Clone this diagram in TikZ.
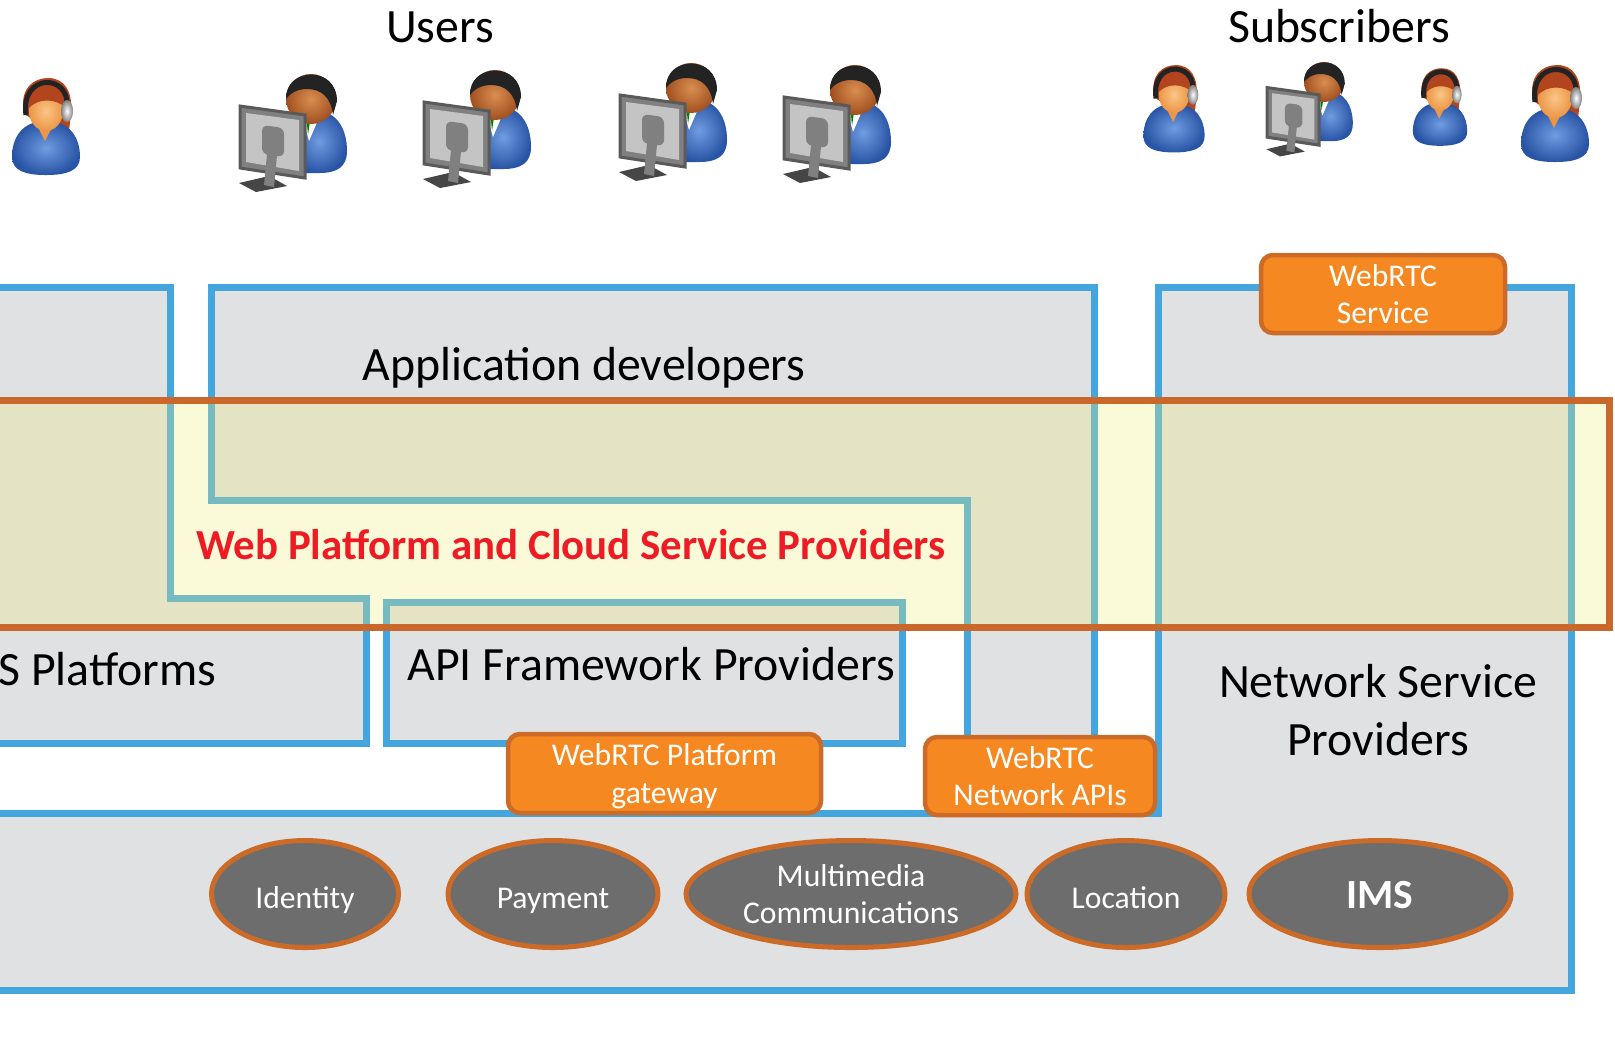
\documentclass[tikz,border=0pt]{standalone}
\usepackage{fontspec}
\setmainfont{Carlito}
\usetikzlibrary{shapes.geometric}

\definecolor{boxblue}{RGB}{68,166,221}
\definecolor{boxgray}{RGB}{224,225,227}
\definecolor{bandorange}{RGB}{201,104,42}
\definecolor{bandyellow}{RGB}{238,235,125}
\definecolor{webrtcorange}{RGB}{245,136,32}
\definecolor{webrtcedge}{RGB}{204,106,40}
\definecolor{svcgray}{RGB}{109,109,109}
\definecolor{cloudred}{RGB}{237,28,36}
\definecolor{suitblue}{RGB}{40,84,165}
\definecolor{suitlight}{RGB}{112,156,225}
\definecolor{skin}{RGB}{236,150,70}
\definecolor{skinlight}{RGB}{250,198,135}
\definecolor{skinbrown}{RGB}{160,80,32}
\definecolor{skinbrownlight}{RGB}{218,142,80}
\definecolor{hairred}{RGB}{178,68,30}
\definecolor{hairdark}{RGB}{35,35,35}
\definecolor{monitoredge}{RGB}{90,90,90}
\definecolor{monitorback}{RGB}{196,196,196}
\definecolor{standgray}{RGB}{128,128,128}
\definecolor{basegray}{RGB}{70,70,70}

\tikzset{
  layer/.style={draw=boxblue, fill=boxgray, line width=0.7mm},
  band/.style={draw=bandorange, fill=bandyellow, fill opacity=0.3, line width=0.7mm},
  biglabel/.style={font=\fontsize{13.6}{16.3}\selectfont, inner sep=0pt},
  webrtc/.style={draw=webrtcedge, fill=webrtcorange, line width=0.45mm,
    rounded corners=1.2mm, text=white, align=center, inner sep=0pt,
    text depth=0pt, font=\fontsize{9}{10.6}\selectfont},
  svc/.style={ellipse, draw=webrtcedge, fill=svcgray, line width=0.5mm,
    text=white, align=center, inner sep=0pt, minimum height=1.07cm,
    font=\fontsize{9}{10.6}\selectfont},
  svcone/.style={svc, text height=0.8em, text depth=0pt},
  % 戴耳机的人
  agent/.pic={
    \fill[hairred] (-0.22,0.05) .. controls (-0.27,-0.2) and (-0.13,-0.31) .. (0.02,-0.31)
      .. controls (0.19,-0.31) and (0.27,-0.17) .. (0.25,0.05) -- (0.22,0.3) -- (0.06,0.22) -- cycle;
    \shade[inner color=suitlight, outer color=suitblue] (0,0.12)
      .. controls (-0.25,0.12) and (-0.34,0.3) .. (-0.34,0.48)
      .. controls (-0.34,0.62) and (-0.2,0.66) .. (0,0.66)
      .. controls (0.2,0.66) and (0.34,0.62) .. (0.34,0.48)
      .. controls (0.34,0.3) and (0.25,0.12) .. (0,0.12) -- cycle;
    \fill[skin] (-0.11,0.12) -- (0.09,0.12) -- (-0.01,0.32) -- cycle;
    \shade[inner color=skinlight, outer color=skin] (0,0.02) ellipse (0.17 and 0.2);
    \fill[hairred] (-0.18,0.0) .. controls (-0.2,-0.24) and (0.18,-0.26) .. (0.19,-0.02)
      .. controls (0.1,-0.1) and (-0.08,-0.12) .. (-0.18,0.0) -- cycle;
    \draw[hairdark, line width=0.5mm] (-0.2,0.06) .. controls (-0.26,-0.36) and (0.24,-0.36) .. (0.21,-0.02);
    \shade[inner color=white, outer color=gray] (0.21,0.02) ellipse (0.06 and 0.11);
  },
  % 坐在电脑后的人
  pcuser/.pic={
    \shade[inner color=suitlight, outer color=suitblue] (0.02,0.11)
      .. controls (0.26,0.11) and (0.36,0.3) .. (0.36,0.52)
      .. controls (0.36,0.68) and (0.26,0.74) .. (0.08,0.74) -- (-0.2,0.74) -- (-0.2,0.2)
      .. controls (-0.14,0.13) and (-0.08,0.11) .. (0.02,0.11) -- cycle;
    \fill[white] (-0.1,0.14) -- (0.1,0.14) -- (-0.02,0.42) -- cycle;
    \fill[green!50!black] (-0.05,0.15) -- (0.0,0.15) -- (-0.03,0.36) -- cycle;
    \shade[inner color=skinbrownlight, outer color=skinbrown] (0,0) circle (0.25);
    \fill[hairdark] (-0.25,0.0) .. controls (-0.26,-0.32) and (0.26,-0.34) .. (0.26,0.02)
      -- (0.22,0.16) .. controls (0.2,-0.02) and (0.1,-0.1) .. (-0.04,-0.1)
      .. controls (-0.16,-0.1) and (-0.22,-0.04) .. (-0.25,0.0) -- cycle;
    \filldraw[fill=standgray, draw=monitoredge, line width=0.3mm]
      (-0.71,0.07) -- (-0.06,0.16) -- (-0.06,0.79) -- (-0.71,0.69) -- cycle;
    \fill[monitorback] (-0.65,0.14) -- (-0.12,0.21) -- (-0.12,0.72) -- (-0.65,0.63) -- cycle;
    \fill[basegray] (-0.72,0.84) -- (-0.42,0.77) -- (-0.24,0.87) -- (-0.55,0.93) -- cycle;
    \fill[standgray] (-0.43,0.45) -- (-0.33,0.46) -- (-0.37,0.88) -- (-0.47,0.86) -- cycle;
    \fill[standgray, rounded corners=0.6mm] (-0.49,0.26) -- (-0.27,0.29) -- (-0.27,0.58) -- (-0.49,0.55) -- cycle;
  }
}

\begin{document}
\begin{tikzpicture}[x=1cm, y=-1cm]
% 1. 画布范围
\useasboundingbox (0,0) rectangle (16.15,10.61);
\clip (0,0) rectangle (16.15,10.61);

% 2. 灰色的各层
\draw[layer] (-0.5,2.87) -- (1.70,2.87) -- (1.70,5.98) -- (3.66,5.98) -- (3.66,7.43) -- (-0.5,7.43) -- cycle;
\draw[layer] (2.11,2.87) -- (10.94,2.87) -- (10.94,8.14) -- (9.67,8.14) -- (9.67,5.00) -- (2.11,5.00) -- cycle;
\draw[layer] (3.86,6.02) rectangle (9.02,7.43);
\draw[layer] (11.58,2.87) -- (15.71,2.87) -- (15.71,9.90) -- (-0.5,9.90) -- (-0.5,8.13) -- (11.58,8.13) -- cycle;

% 3. 各层的名字
\node[biglabel, anchor=base] (appdev) at (5.84,3.80) {Application developers};
\node[biglabel, anchor=base east] (osplat) at (2.17,6.85) {S Platforms};
\node[biglabel, anchor=base] (apifw) at (6.51,6.80) {API Framework Providers};
\node[biglabel, align=center] (nsp) at (13.78,7.10) {Network Service\\Providers};

% 4. Web 平台与云服务层
\draw[band] (-0.5,4.00) rectangle (16.09,6.27);
\node[font=\fontsize{12.2}{15}\selectfont\bfseries, text=cloudred, anchor=base, inner sep=0pt]
  (cloud) at (5.71,5.59) {Web Platform and Cloud Service Providers};

% 5. WebRTC 接口
\node[webrtc, minimum width=2.44cm, minimum height=0.78cm] (wservice) at (13.83,2.94) {WebRTC\\Service};
\node[webrtc, minimum width=3.13cm, minimum height=0.79cm] (wgateway) at (6.645,7.735) {WebRTC Platform\\gateway};
\node[webrtc, minimum width=2.30cm, minimum height=0.78cm] (wnetapi) at (10.40,7.76) {WebRTC\\Network APIs};

% 6. 网络能力
\foreach \n/\x/\w/\t in {identity/3.05/1.87/Identity, payment/5.53/2.10/Payment, location/11.26/1.98/Location}
  {\node[svcone, minimum width=\w cm] (\n) at (\x,8.94) {\t};}
\node[svc, minimum width=3.30cm] (multimedia) at (8.51,8.94) {Multimedia\\Communications};
\node[svcone, minimum width=2.62cm, font=\fontsize{11.8}{14}\selectfont\bfseries] (ims) at (13.80,8.94) {IMS};

% 7. 用户与订户
\node[biglabel, anchor=base] (users) at (4.40,0.42) {Users};
\node[biglabel, anchor=base] (subscribers) at (13.39,0.42) {Subscribers};
\pic at (0.46,1.09) {agent};
\foreach \px/\py in {3.11/0.99, 4.95/0.95, 6.91/0.88, 8.55/0.90}
  {\pic at (\px,\py) {pcuser};}
\foreach \px/\py/\s in {11.74/0.93/0.9, 14.40/0.93/0.8, 15.55/0.96/1}
  {\pic[scale=\s] at (\px,\py) {agent};}
\pic[scale=0.8] at (13.24,0.82) {pcuser};
\end{tikzpicture}
\end{document}
